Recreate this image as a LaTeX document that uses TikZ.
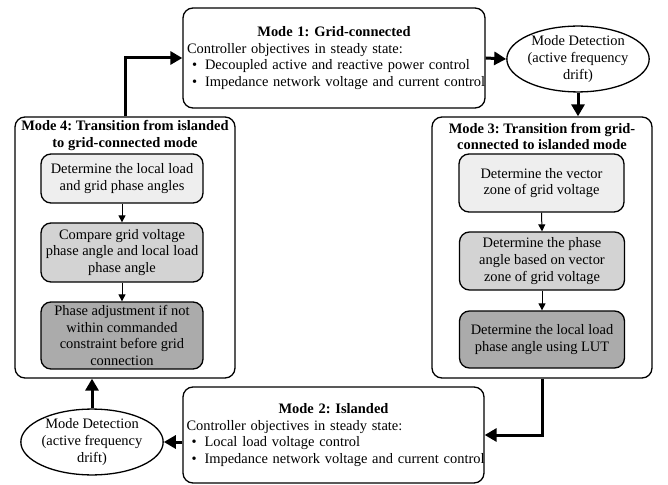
\documentclass[tikz,border=0pt]{standalone}
\usepackage{fontspec}
\setmainfont{Liberation Serif}
\usetikzlibrary{arrows.meta,shapes.geometric}
\definecolor{fillA}{HTML}{EEEEEE}
\definecolor{fillB}{HTML}{D3D3D3}
\definecolor{fillC}{HTML}{ABABAB}
\frenchspacing
\begin{document}
\begin{tikzpicture}[x=1bp,y=-1bp,
  every node/.style={font=\fontsize{14.5}{16.8}\selectfont},
  modebox/.style={draw, rounded corners=10bp, line width=1.3bp, inner sep=0pt},
  titletext/.style={font=\fontsize{14.5}{16.8}\selectfont\bfseries, align=center, inner sep=0pt},
  stepbox/.style={draw, rounded corners=10bp, line width=1.3bp, align=center, inner sep=0pt},
  detect/.style={draw, ellipse, line width=1.3bp, align=center, inner sep=0pt},
  bigarrow/.style={line width=3bp, -{Triangle[length=12bp,width=13bp]}},
  smallarrow/.style={line width=1bp, -{Triangle[length=7bp,width=7bp]}},
]
\useasboundingbox (0,0) rectangle (668,485);

% Mode 1
\node[modebox, minimum width=302bp, minimum height=100bp, text width=294bp, align=left] (m1) at (334,58)
{\makebox[294bp][c]{\textbf{Mode 1: Grid-connected}}\\
\mbox{Controller objectives in steady state:}\\
\mbox{\hspace*{5bp}\textbullet\hspace{8bp}Decoupled active and reactive power control}\\
\mbox{\hspace*{5bp}\textbullet\hspace{8bp}Impedance network voltage and current control}};

% Mode 2
\node[modebox, minimum width=301bp, minimum height=96bp, text width=294bp, align=left] (m2) at (333.5,435)
{\makebox[294bp][c]{\textbf{Mode 2: Islanded}}\\
\mbox{Controller objectives in steady state:}\\
\mbox{\hspace*{5bp}\textbullet\hspace{8bp}Local load voltage control}\\
\mbox{\hspace*{5bp}\textbullet\hspace{8bp}Impedance network voltage and current control}};

% Mode 4
\node[modebox, minimum width=220bp, minimum height=261bp] (m4) at (125,247.5) {};
\node[titletext] (t4) at (125,135.5) {Mode 4: Transition from islanded\\to grid-connected mode};
\node[stepbox, fill=fillA, minimum width=162bp, minimum height=49bp] (a1) at (122,178.5)
  {Determine the local load\\and grid phase angles};
\node[stepbox, fill=fillB, minimum width=162bp, minimum height=59bp] (a2) at (122,252.5)
  {Compare grid voltage\\phase angle and local load\\phase angle};
\node[stepbox, fill=fillC, minimum width=162bp, minimum height=67bp] (a3) at (122,335.5)
  {Phase adjustment if not\\within commanded\\constraint before grid\\connection};

% Mode 3
\node[modebox, minimum width=220bp, minimum height=261bp] (m3) at (542,247.5) {};
\node[titletext] (t3) at (542,136.5) {Mode 3: Transition from grid-\\connected to islanded mode};
\node[stepbox, fill=fillA, minimum width=165bp, minimum height=58bp] (b1) at (541.5,183)
  {Determine the vector\\zone of grid voltage};
\node[stepbox, fill=fillB, minimum width=165bp, minimum height=58bp] (b2) at (542,261)
  {Determine the phase\\angle based on vector\\zone of grid voltage};
\node[stepbox, fill=fillC, minimum width=165bp, minimum height=57bp] (b3) at (542,339.5)
  {Determine the local load\\phase angle using LUT};

% Mode detection ellipses
\node[detect, minimum width=128bp, minimum height=57bp] (d1) at (578,59)
  {Mode Detection\\(active frequency\\drift)};
\node[detect, minimum width=126bp, minimum height=60bp] (d2) at (92,442)
  {Mode Detection\\(active frequency\\drift)};

% thin arrows
\draw[smallarrow] (a1.south) -- (a2.north);
\draw[smallarrow] (a2.south) -- (a3.north);
\draw[smallarrow] (b1.south) -- (b2.north);
\draw[smallarrow] (b2.south) -- (b3.north);

% thick arrows
\draw[bigarrow] (m4.north) |- (m1.west);
\draw[bigarrow] (m1.east) -- (d1.west);
\draw[bigarrow] (d1.south) -- (d1.south |- m3.north);
\draw[bigarrow] (m3.south) |- (m2.east);
\draw[bigarrow] (m2.west |- d2.east) -- (d2.east);
\draw[bigarrow] (d2.north) -- (d2.north |- m4.south);
\end{tikzpicture}
\end{document}
